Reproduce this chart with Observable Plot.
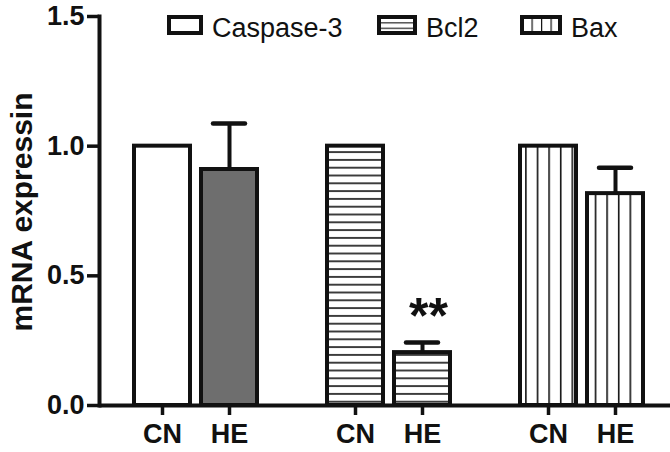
<!DOCTYPE html>
<html><head><meta charset="utf-8">
<script src="https://cdn.jsdelivr.net/npm/d3@7"></script>
<script src="https://cdn.jsdelivr.net/npm/@observablehq/plot@0.6"></script>
<style>
html,body{margin:0;padding:0;background:#fff;overflow:hidden}
#wrap{position:relative;width:670px;height:452px}
#wrap svg text{font-family:"Liberation Sans",Arial,sans-serif}
.legend-item{position:absolute;top:0;height:40px}
.legend-item svg{position:absolute;top:15px;left:0}
.legend-item span{position:absolute;top:15px;font:27px/1 "Liberation Sans",Arial,sans-serif;color:#111;white-space:nowrap}
.ytitle{position:absolute;left:22px;top:212px;transform:translate(-50%,-50%) rotate(-90deg);font:bold 30px/1 "Liberation Sans",Arial,sans-serif;white-space:nowrap;color:#111}
</style></head>
<body>
<svg width="0" height="0" style="position:absolute">
<defs>
<pattern id="hstripes" patternUnits="userSpaceOnUse" width="12" height="7.8"><rect width="12" height="7.8" fill="#fff"/><line x1="0" x2="12" y1="3.9" y2="3.9" stroke="#111" stroke-width="1.6"/></pattern>
<pattern id="vstripes" patternUnits="userSpaceOnUse" x="10.5" width="11.6" height="12"><rect width="11.6" height="12" fill="#fff"/><line x1="0.8" x2="0.8" y1="0" y2="12" stroke="#111" stroke-width="1.6"/></pattern>
<pattern id="lg-h" patternUnits="objectBoundingBox" width="1" height="0.3334"><rect width="60" height="20" fill="#fff"/><line x1="0" x2="60" y1="0" y2="0" stroke="#111" stroke-width="2.4"/></pattern>
<pattern id="lg-v" patternUnits="objectBoundingBox" width="0.25" height="1"><rect width="20" height="20" fill="#fff"/><line x1="0" x2="0" y1="0" y2="20" stroke="#111" stroke-width="2.4"/></pattern>
</defs>
</svg>
<div id="wrap"></div>
<script>
// ---- data ----
const genes = ["Caspase-3", "Bcl2", "Bax"];
const groups = ["CN", "HE"];
const caspase3Mean = [1.00, 0.91];
const caspase3Err  = [0, 0.177];
const bcl2Mean = [1.00, 0.204];
const bcl2Err  = [0, 0.039];
const baxMean = [1.00, 0.817];
const baxErr  = [0, 0.100];
const yTicks = [0, 0.5, 1.0, 1.5];
const yLabel = "mRNA expressin";
const sigGene = ["Bcl2"];
const sigGroup = ["HE"];
const sigText = ["**"];

// ---- table ----
const meansByGene = [caspase3Mean, bcl2Mean, baxMean];
const errsByGene = [caspase3Err, bcl2Err, baxErr];
const rows = genes.flatMap((g, i) => groups.map((grp, j) => ({gene: g, group: grp, value: meansByGene[i][j], err: errsByGene[i][j]})));
const errRows = rows.filter(d => d.err > 0);
const sig = sigGene.map((g, k) => {
  const r = rows.find(d => d.gene === g && d.group === sigGroup[k]);
  return {gene: g, group: sigGroup[k], top: r.value + r.err, text: sigText[k]};
});

const fillOf = d => d.gene === "Caspase-3" ? (d.group === "HE" ? "#6e6e6e" : "#ffffff")
  : d.gene === "Bcl2" ? "url(#hstripes)" : "url(#vstripes)";

const chart = Plot.plot({
  width: 670, height: 452,
  marginTop: 16, marginBottom: 47, marginLeft: 98, marginRight: 8,
  fx: {domain: genes, range: [98, 678], padding: 0, axis: null},
  x: {domain: groups, paddingInner: 0.162, paddingOuter: 0.5025, align: 0.5},
  y: {domain: [0, 1.5]},
  color: {type: "identity"},
  style: {background: "transparent", color: "#111", fontFamily: "Liberation Sans, Arial, sans-serif", overflow: "hidden"},
  marks: [
    Plot.barY(rows, {fx: "gene", x: "group", y: "value", fill: fillOf, stroke: "#111", strokeWidth: 4}),
    Plot.ruleX(errRows, {fx: "gene", x: "group", y1: "value", y2: d => d.value + d.err, stroke: "#111", strokeWidth: 4}),
    Plot.tickY(errRows, {fx: "gene", x: "group", y: d => d.value + d.err, stroke: "#111", strokeWidth: 4.5, strokeLinecap: "round", inset: 12}),
    Plot.text(sig, {fx: "gene", x: "group", y: "top", text: "text", fontSize: 50, fontWeight: "bold", fill: "#111", dy: -25, dx: 6}),
    Plot.ruleY([0], {stroke: "#111", strokeWidth: 4}),
    Plot.frame({anchor: "left", facetAnchor: "left", stroke: "#111", strokeWidth: 4}),
    Plot.axisY({ticks: yTicks, tickFormat: d3.format(".1f"), tickSize: 12, tickPadding: 3, fontSize: 27, fontWeight: "bold", stroke: "#111", fill: "#111", strokeWidth: 3.5, label: null}),
    Plot.axisX({tickSize: 10, tickPadding: 8, fontSize: 27, fontWeight: "bold", stroke: "#111", fill: "#111", strokeWidth: 3.5, label: null})
  ]
});
const wrap = document.getElementById("wrap");
wrap.appendChild(chart);

// y title
const yt = document.createElement("div");
yt.className = "ytitle";
yt.textContent = yLabel;
wrap.appendChild(yt);

// legend
const legendLeft = [167, 377, 520];
const legendSwatchW = [36, 40, 42];
const legendFill = ["#ffffff", "url(#lg-h)", "url(#lg-v)"];
genes.forEach((g, i) => {
  const item = document.createElement("div");
  item.className = "legend-item";
  item.style.left = legendLeft[i] + "px";
  const s = d3.create("svg").attr("width", legendSwatchW[i]).attr("height", 20);
  s.append("rect").attr("x", 2).attr("y", 2).attr("width", legendSwatchW[i] - 4).attr("height", 16)
    .attr("fill", legendFill[i]).attr("stroke", "#111").attr("stroke-width", 4);
  item.appendChild(s.node());
  const t = document.createElement("span");
  t.style.left = (legendSwatchW[i] + 9) + "px";
  t.textContent = g;
  item.appendChild(t);
  wrap.appendChild(item);
});
</script>
</body></html>
